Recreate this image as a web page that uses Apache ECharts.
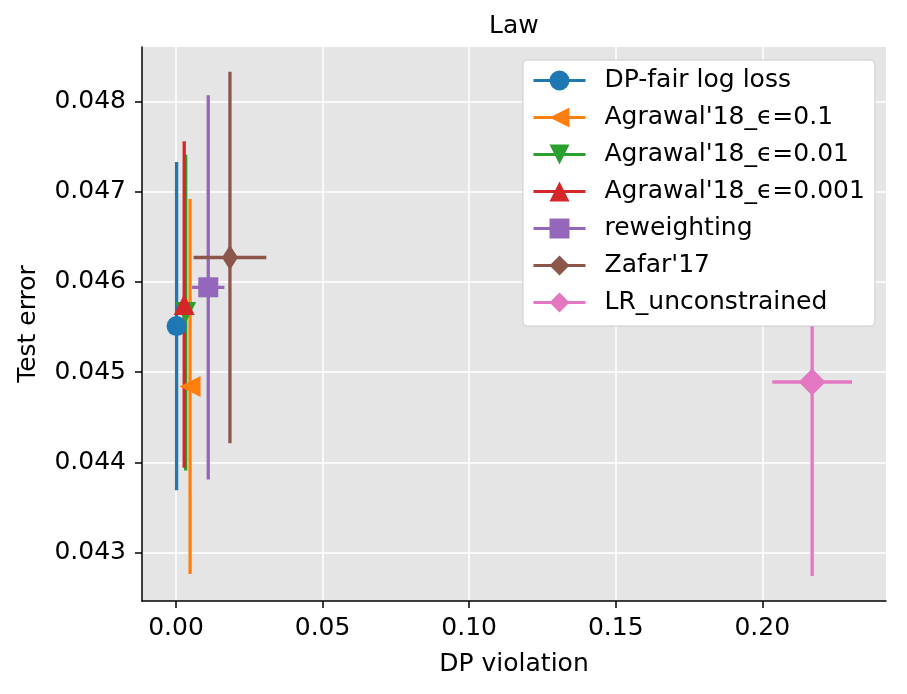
<!DOCTYPE html>
<html>
<head>
<meta charset="utf-8">
<script src="https://cdn.jsdelivr.net/npm/echarts@6/dist/echarts.min.js"></script>
<style>html,body{margin:0;padding:0;background:#fff;}#c{width:907px;height:694px;}</style>
</head>
<body>
<div id="c"></div>
<script>
const methods = ['DP-fair log loss', "Agrawal'18_ϵ=0.1", "Agrawal'18_ϵ=0.01", "Agrawal'18_ϵ=0.001", 'reweighting', "Zafar'17", 'LR_unconstrained'];
const dpViolation = [0.0002, 0.0048, 0.0033, 0.0028, 0.0110, 0.0184, 0.2170];
const dpViolationErr = [0.0005, 0.0015, 0.0010, 0.0010, 0.0055, 0.0124, 0.0136];
const testError = [0.04551, 0.04484, 0.04566, 0.04575, 0.04594, 0.04627, 0.04489];
const testErrorErr = [0.00182, 0.00208, 0.00175, 0.00181, 0.00213, 0.00206, 0.00215];
const xTicks = [0.00, 0.05, 0.10, 0.15, 0.20];
const yTicks = [0.043, 0.044, 0.045, 0.046, 0.047, 0.048];

const colors = ['#1f77b4', '#ff7f0e', '#2ca02c', '#d62728', '#9467bd', '#8c564b', '#e377c2'];
const symbols = ['circle', 'triangle', 'triangle', 'triangle', 'rect', 'diamond', 'diamond'];
const rotates = [0, 90, 180, 0, 0, 0, 0];
const sizes = [20, 21, 21, 21, 20, [16, 25], [27, 27]];
const FONT = 'DejaVu Sans';
const FS = 25;

const series = [];
methods.forEach((name, i) => {
  series.push({
    type: 'custom',
    name: name + '__err',
    silent: true,
    data: [[dpViolation[i], testError[i], dpViolationErr[i], testErrorErr[i]]],
    renderItem: function (params, api) {
      const x = api.value(0), y = api.value(1), xe = api.value(2), ye = api.value(3);
      const top = api.coord([x, y + ye]);
      const bot = api.coord([x, y - ye]);
      const lft = api.coord([x - xe, y]);
      const rgt = api.coord([x + xe, y]);
      const style = { stroke: colors[i], lineWidth: 3.3, fill: null };
      return {
        type: 'group',
        children: [
          { type: 'line', shape: { x1: top[0], y1: top[1], x2: bot[0], y2: bot[1] }, style: style },
          { type: 'line', shape: { x1: lft[0], y1: lft[1], x2: rgt[0], y2: rgt[1] }, style: style }
        ]
      };
    },
    animation: false
  });
  series.push({
    type: 'line',
    name: name,
    data: [[dpViolation[i], testError[i]]],
    symbol: symbols[i],
    symbolRotate: rotates[i],
    symbolSize: sizes[i],
    showSymbol: true,
    color: colors[i],
    itemStyle: { color: colors[i], opacity: 1 },
    lineStyle: { color: colors[i], width: 3 },
    emphasis: { disabled: true },
    animation: false
  });
});

const chart = echarts.init(document.getElementById('c'), null, { renderer: 'canvas' });
chart.setOption({
  backgroundColor: '#ffffff',
  animation: false,
  title: {
    text: 'Law',
    left: 484,
    top: 9,
    textStyle: { fontFamily: FONT, fontSize: FS, fontWeight: 'normal', color: '#000' }
  },
  legend: {
    data: methods,
    orient: 'vertical',
    left: 523,
    top: 60,
    padding: [8, 10, 11, 9],
    itemWidth: 52,
    itemHeight: 25,
    itemGap: 12,
    backgroundColor: '#ffffff',
    borderColor: '#cccccc',
    borderWidth: 1,
    borderRadius: 4,
    selectedMode: false,
    lineStyle: { width: 3 },
    textStyle: { fontFamily: FONT, fontSize: FS, color: '#000', padding: [0, 0, 0, 14] }
  },
  grid: {
    left: 142, right: 21, top: 47, bottom: 93,
    show: true, backgroundColor: '#e5e5e5', borderWidth: 0
  },
  xAxis: {
    type: 'value',
    min: -0.0116,
    max: 0.2422,
    interval: 0.05,
    name: 'DP violation',
    nameLocation: 'middle',
    nameGap: 51,
    nameTextStyle: { fontFamily: FONT, fontSize: FS, color: '#000' },
    axisLine: { show: true, onZero: false, lineStyle: { color: '#000', width: 1.5 } },
    axisTick: { show: true, length: 7, lineStyle: { color: '#000', width: 1.5 }, customValues: xTicks },
    axisLabel: { fontFamily: FONT, fontSize: FS, color: '#000', margin: 15, customValues: xTicks,
      formatter: v => v.toFixed(2) },
    splitLine: { show: true, lineStyle: { color: '#ffffff', width: 1.5 } }
  },
  yAxis: {
    type: 'value',
    min: 0.042462,
    max: 0.048604,
    interval: 0.001,
    name: 'Test error',
    nameLocation: 'middle',
    nameGap: 101,
    nameTextStyle: { fontFamily: FONT, fontSize: FS, color: '#000' },
    axisLine: { show: true, onZero: false, lineStyle: { color: '#000', width: 1.5 } },
    axisTick: { show: true, length: 7, lineStyle: { color: '#000', width: 1.5 }, customValues: yTicks },
    axisLabel: { fontFamily: FONT, fontSize: FS, color: '#000', margin: 16, customValues: yTicks,
      formatter: v => v.toFixed(3) },
    splitLine: { show: true, lineStyle: { color: '#ffffff', width: 1.5 } }
  },
  series: series
});
</script>
</body>
</html>
